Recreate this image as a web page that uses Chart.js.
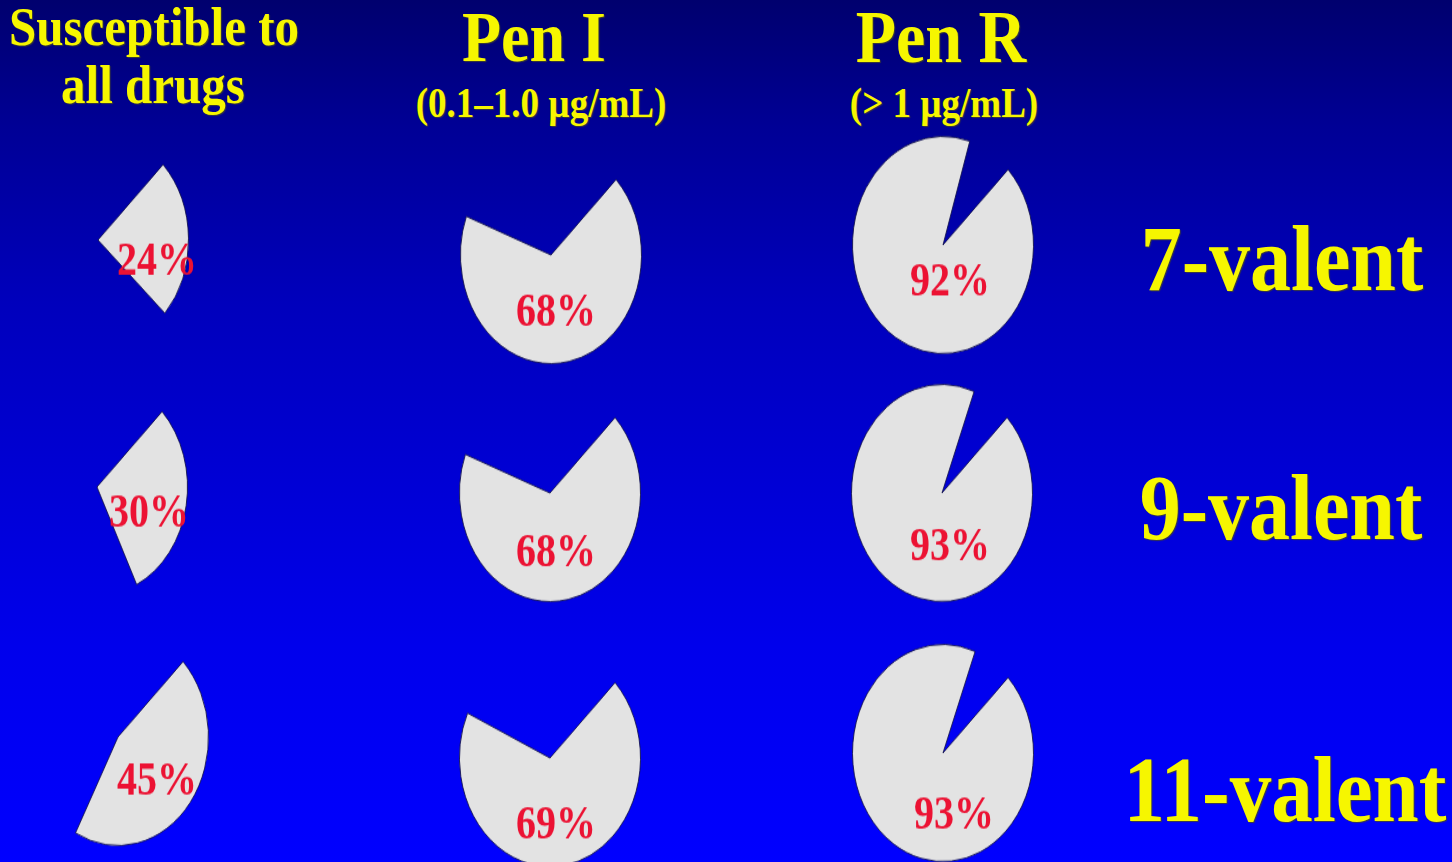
<!DOCTYPE html>
<html><head><meta charset="utf-8">
<script src="https://cdn.jsdelivr.net/npm/chart.js@4.4.1/dist/chart.umd.min.js"></script>
<style>
html,body{margin:0;padding:0;}
body{width:1452px;height:862px;overflow:hidden;position:relative;
background:linear-gradient(to bottom, rgb(0,0,110) 0%, rgb(0,0,150) 15%, rgb(0,0,188) 35%, rgb(0,0,212) 55%, rgb(0,0,236) 75%, rgb(0,0,255) 100%);
font-family:"Liberation Serif","Times New Roman",serif;}
.t{position:absolute;white-space:nowrap;color:#f6f600;font-weight:bold;text-shadow:1px 1px 1px rgba(70,70,40,0.85);transform-origin:50% 83.75%;}
.pie{position:absolute;width:242px;height:242px;transform:scaleY(1.2);}
</style></head><body>
<script>
// ---- data ----
const rowLabels = ['7-valent', '9-valent', '11-valent'];
const columnTitles = [['Susceptible to', 'all drugs'], ['Pen I'], ['Pen R']];
const columnSubtitles = ['', '(0.1–1.0 µg/mL)', '(> 1 µg/mL)'];
const susceptibleAll = [24, 30, 45];
const penI = [68, 68, 69];
const penR = [92, 93, 93];
const series = [susceptibleAll, penI, penR];

// ---- layout (positions, not data) ----
const pieCenters = [
  [[98, 240], [551, 255], [943, 245]],
  [[97, 487], [550, 493], [942, 493]],
  [[118, 737], [550, 758], [943, 753]]
];
const labelOffsets = [
  [[59, 19], [5, 49], [7, 32]],
  [[52, 23], [6, 51], [8, 46]],
  [[39, 37.5], [6, 57], [11, 52.5]]
];

function addText(str, cx, baseline, size, sy) {
  const d = document.createElement('div');
  d.className = 't';
  d.textContent = str;
  d.style.fontSize = size + 'px';
  d.style.lineHeight = size + 'px';
  d.style.top = (baseline - 0.8375 * size) + 'px';
  d.style.left = cx + 'px';
  d.style.transform = 'translateX(-50%) scaleY(' + sy + ')';
  document.body.appendChild(d);
}

// headers
addText(columnTitles[0][0], 154, 45, 49, 1.1);
addText(columnTitles[0][1], 153, 103, 49, 1.1);
addText(columnTitles[1][0], 534, 62, 64, 1.12);
addText(columnSubtitles[1], 541, 117, 37, 1.12);
addText(columnTitles[2][0], 941, 62, 66, 1.12);
addText(columnSubtitles[2], 944, 117, 37, 1.12);
// row labels
const rowLabelPos = [[1282, 291, 82], [1281, 540, 82], [1285, 822, 83]];
rowLabels.forEach((s, i) => addText(s, rowLabelPos[i][0], rowLabelPos[i][1], rowLabelPos[i][2], 1.13));

const labelPlugin = {
  id: 'pctLabel',
  afterDatasetsDraw(chart) {
    const o = chart.options.plugins.pctLabel;
    const arc = chart.getDatasetMeta(0).data[0];
    const ctx = chart.ctx;
    ctx.save();
    ctx.font = 'bold 40px "Liberation Serif", serif';
    ctx.fillStyle = '#ec1233';
    ctx.textAlign = 'center';
    ctx.textBaseline = 'middle';
    ctx.fillText(chart.data.datasets[0].data[0] + '%', arc.x + o.dx, arc.y + o.dy);
    ctx.restore();
  }
};

for (let r = 0; r < 3; r++) {
  for (let c = 0; c < 3; c++) {
    const v = series[c][r];
    const wrap = document.createElement('div');
    wrap.className = 'pie';
    wrap.style.left = (pieCenters[r][c][0] - 121) + 'px';
    wrap.style.top = (pieCenters[r][c][1] - 121) + 'px';
    const cv = document.createElement('canvas');
    cv.width = 242; cv.height = 242;
    wrap.appendChild(cv);
    document.body.appendChild(wrap);
    new Chart(cv, {
      type: 'pie',
      data: {
        labels: [columnTitles[c].join(' '), 'other'],
        datasets: [{
          data: [v, 100 - v],
          backgroundColor: ['#e3e3e3', 'rgba(0,0,0,0)'],
          borderColor: ['rgba(20,20,80,0.9)', 'rgba(0,0,0,0)'],
          borderWidth: [1, 0],
          hoverOffset: 0
        }]
      },
      options: {
        responsive: false,
        animation: false,
        events: [],
        rotation: 46,
        layout: { padding: 30 },
        plugins: {
          legend: { display: false },
          tooltip: { enabled: false },
          pctLabel: { dx: labelOffsets[r][c][0], dy: labelOffsets[r][c][1] }
        }
      },
      plugins: [labelPlugin]
    });
  }
}
</script>
</body></html>
